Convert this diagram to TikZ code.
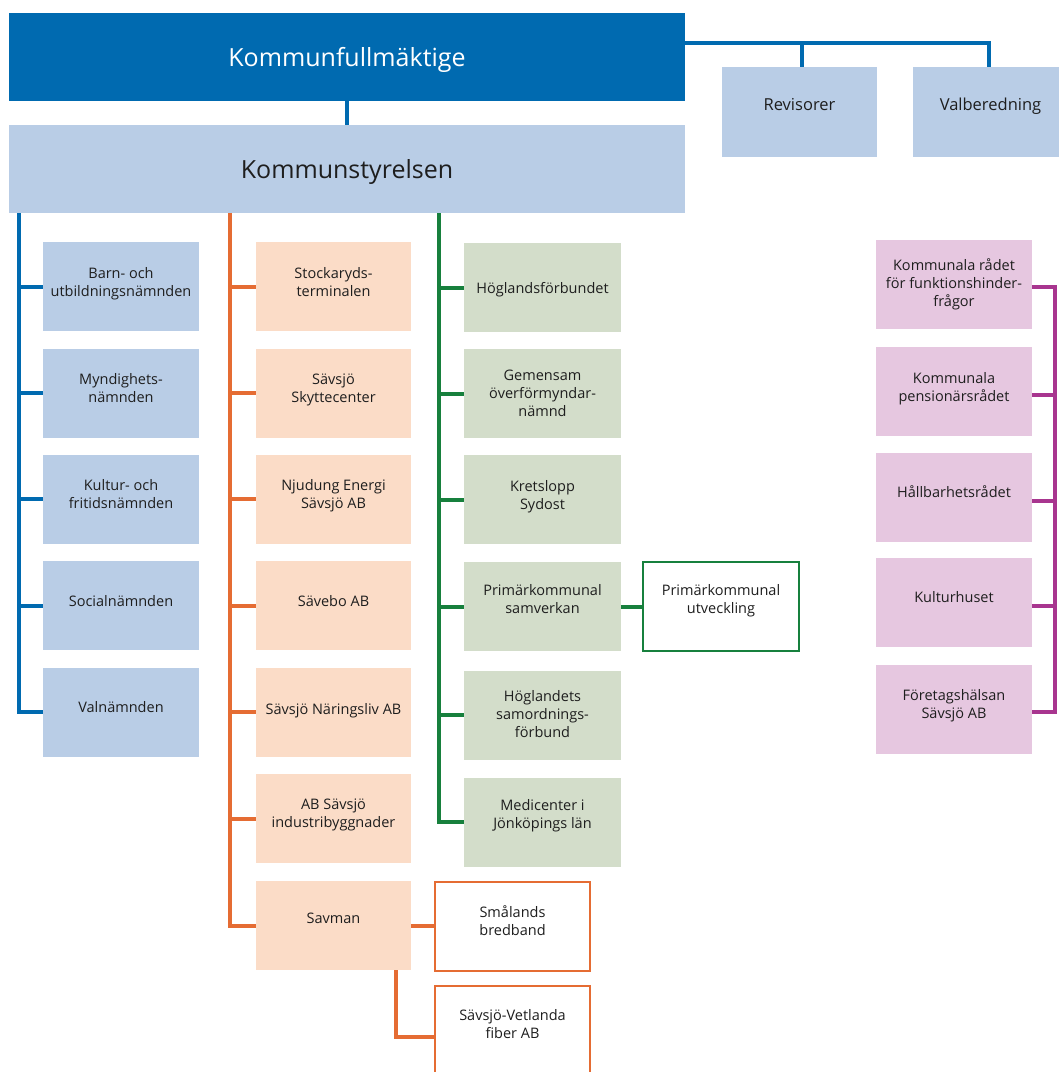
\documentclass[tikz,border=0pt]{standalone}
\usepackage{fontspec}
\setmainfont{Open Sans}
\usepackage{tikz}

\definecolor{kfblue}{HTML}{006AB0}
\definecolor{ksblue}{HTML}{B9CDE6}
\definecolor{orline}{HTML}{E56C33}
\definecolor{orfill}{HTML}{FBDCC7}
\definecolor{grline}{HTML}{17803D}
\definecolor{grfill}{HTML}{D3DDCA}
\definecolor{piline}{HTML}{A8358F}
\definecolor{pifill}{HTML}{E6C7E0}
\definecolor{ink}{HTML}{1E1E1E}

\begin{document}
\begin{tikzpicture}[x=1pt,y=-1pt,
    box/.style={inner sep=0pt, minimum width=156pt, minimum height=89pt,
        align=center, text depth=10pt, text=ink,
        font=\fontsize{14.5}{18}\selectfont},
    bluebox/.style={box, fill=ksblue},
    orbox/.style={box, fill=orfill},
    grbox/.style={box, fill=grfill},
    pibox/.style={box, fill=pifill},
    orframe/.style={box, fill=white, draw=orline, line width=2pt},
    grframe/.style={box, fill=white, draw=grline, line width=2pt},
    bigbox/.style={box, minimum width=676pt, minimum height=88pt,
        text depth=0pt, font=\fontsize{25}{30}\selectfont},
    topbox/.style={bluebox, minimum width=155pt, minimum height=90pt,
        text depth=16pt, font=\fontsize{16.5}{20}\selectfont},
    bline/.style={draw=kfblue, line width=4pt},
    oline/.style={draw=orline, line width=4pt},
    gline/.style={draw=grline, line width=4pt},
    pline/.style={draw=piline, line width=4pt}]

    \useasboundingbox (0,0) rectangle (1059,1072);
    \clip (0,0) rectangle (1059,1072);

    % Top level
    \node[bigbox, fill=kfblue, text=white] (kf) at (347,57) {Kommunfullmäktige};
    \node[bigbox, fill=ksblue] (ks) at (347,169) {Kommunstyrelsen};
    \node[topbox] (rev) at (799.5,112) {Revisorer};
    \node[topbox] (val) at (990.5,112) {Valberedning};

    \draw[bline] (kf.south) -- (ks.north);
    \draw[bline] ([yshift=14pt]kf.east) -| ([xshift=-1.5pt]val.north);
    \draw[bline] ([xshift=2.5pt]rev.north) -- ([xshift=2.5pt]rev.north |- 0,43);

    % Nämnder
    \node[bluebox] (barn) at (121,286.5) {Barn- och\\utbildningsnämnden};
    \node[bluebox] (mynd) at (121,393) {Myndighets-\\nämnden};
    \node[bluebox] (kult) at (121,499) {Kultur- och\\fritidsnämnden};
    \node[bluebox] (soc) at (121,605.5) {Socialnämnden};
    \node[bluebox] (valn) at (121,712) {Valnämnden};

    \coordinate (btop) at (19,213);
    \draw[bline] (btop) |- (valn.west);
    \foreach \n in {barn,mynd,kult,soc}{
        \draw[bline] (btop |- \n.west) -- (\n.west);
    }

    % Bolag
    \node[orbox, minimum width=155pt] (stock) at (333.5,286.5) {Stockaryds-\\terminalen};
    \node[orbox, minimum width=155pt] (skytte) at (333.5,393) {Sävsjö\\Skyttecenter};
    \node[orbox, minimum width=155pt] (njud) at (333.5,499) {Njudung Energi\\Sävsjö AB};
    \node[orbox, minimum width=155pt] (savebo) at (333.5,605.5) {Sävebo AB};
    \node[orbox, minimum width=155pt, text depth=6pt] (naring) at (333.5,712) {Sävsjö Näringsliv AB};
    \node[orbox, minimum width=155pt] (indu) at (333.5,818.5) {AB Sävsjö\\industribyggnader};
    \node[orbox, minimum width=155pt, text depth=14pt] (sav) at (333.5,925.5) {Savman};
    \node[orframe, minimum width=155pt, text depth=12pt] (smal) at (512.5,926.5) {Smålands\\bredband};
    \node[orframe, minimum width=155pt, text depth=14pt] (svf) at (512.5,1030.5) {Sävsjö-Vetlanda\\fiber AB};

    \coordinate (otop) at (230,213);
    \draw[oline] (otop) |- (sav.west);
    \foreach \n in {stock,skytte,njud,savebo,naring,indu}{
        \draw[oline] (otop |- \n.west) -- (\n.west);
    }
    \draw[oline] (sav.east) -- (sav.east -| smal.west);
    \draw[oline] ([xshift=62.5pt]sav.south) |- ([yshift=-6.5pt]svf.west);

    % Samverkan
    \node[grbox, minimum width=157pt, text depth=0pt] (hogf) at (542.5,287.5) {Höglandsförbundet};
    \node[grbox, minimum width=157pt, text depth=0pt] (gem) at (542.5,393.5) {Gemensam\\överförmyndar-\\nämnd};
    \node[grbox, minimum width=157pt] (krets) at (542.5,499.5) {Kretslopp\\Sydost};
    \node[grbox, minimum width=157pt, text depth=16pt] (psam) at (542.5,606.5) {Primärkommunal\\samverkan};
    \node[grbox, minimum width=157pt, text depth=3pt] (hsam) at (542.5,715) {Höglandets\\samordnings-\\förbund};
    \node[grbox, minimum width=157pt, text depth=16pt] (medi) at (542.5,822) {Medicenter i\\Jönköpings län};
    \node[grframe, text depth=16pt] (putv) at (721,606.5) {Primärkommunal\\utveckling};

    \coordinate (gtop) at (439,213);
    \draw[gline] (gtop) |- (medi.west);
    \foreach \n in {hogf,gem,krets,psam,hsam}{
        \draw[gline] (gtop |- \n.west) -- (\n.west);
    }
    \draw[gline] (psam.east) -- (putv.west);

    % Råd
    \node[pibox, text depth=2pt] (krf) at (954,284) {Kommunala rådet\\för funktionshinder-\\frågor};
    \node[pibox] (pens) at (954,391.5) {Kommunala\\pensionärsrådet};
    \node[pibox, text depth=12pt] (hall) at (954,497.5) {Hållbarhetsrådet};
    \node[pibox, text depth=12pt] (kulh) at (954,602.5) {Kulturhuset};
    \node[pibox, text depth=12pt] (fore) at (954,709.5) {Företagshälsan\\Sävsjö AB};

    \coordinate (ptr) at ([xshift=23pt]krf.east);
    \draw[pline] ([yshift=-3pt]krf.east) -- ([yshift=-3pt]ptr) |- ([yshift=-2.5pt]fore.east);
    \foreach \n in {pens,hall,kulh}{
        \draw[pline] ([yshift=-3pt]ptr |- \n.east) -- ([yshift=-3pt]\n.east);
    }
\end{tikzpicture}
\end{document}
